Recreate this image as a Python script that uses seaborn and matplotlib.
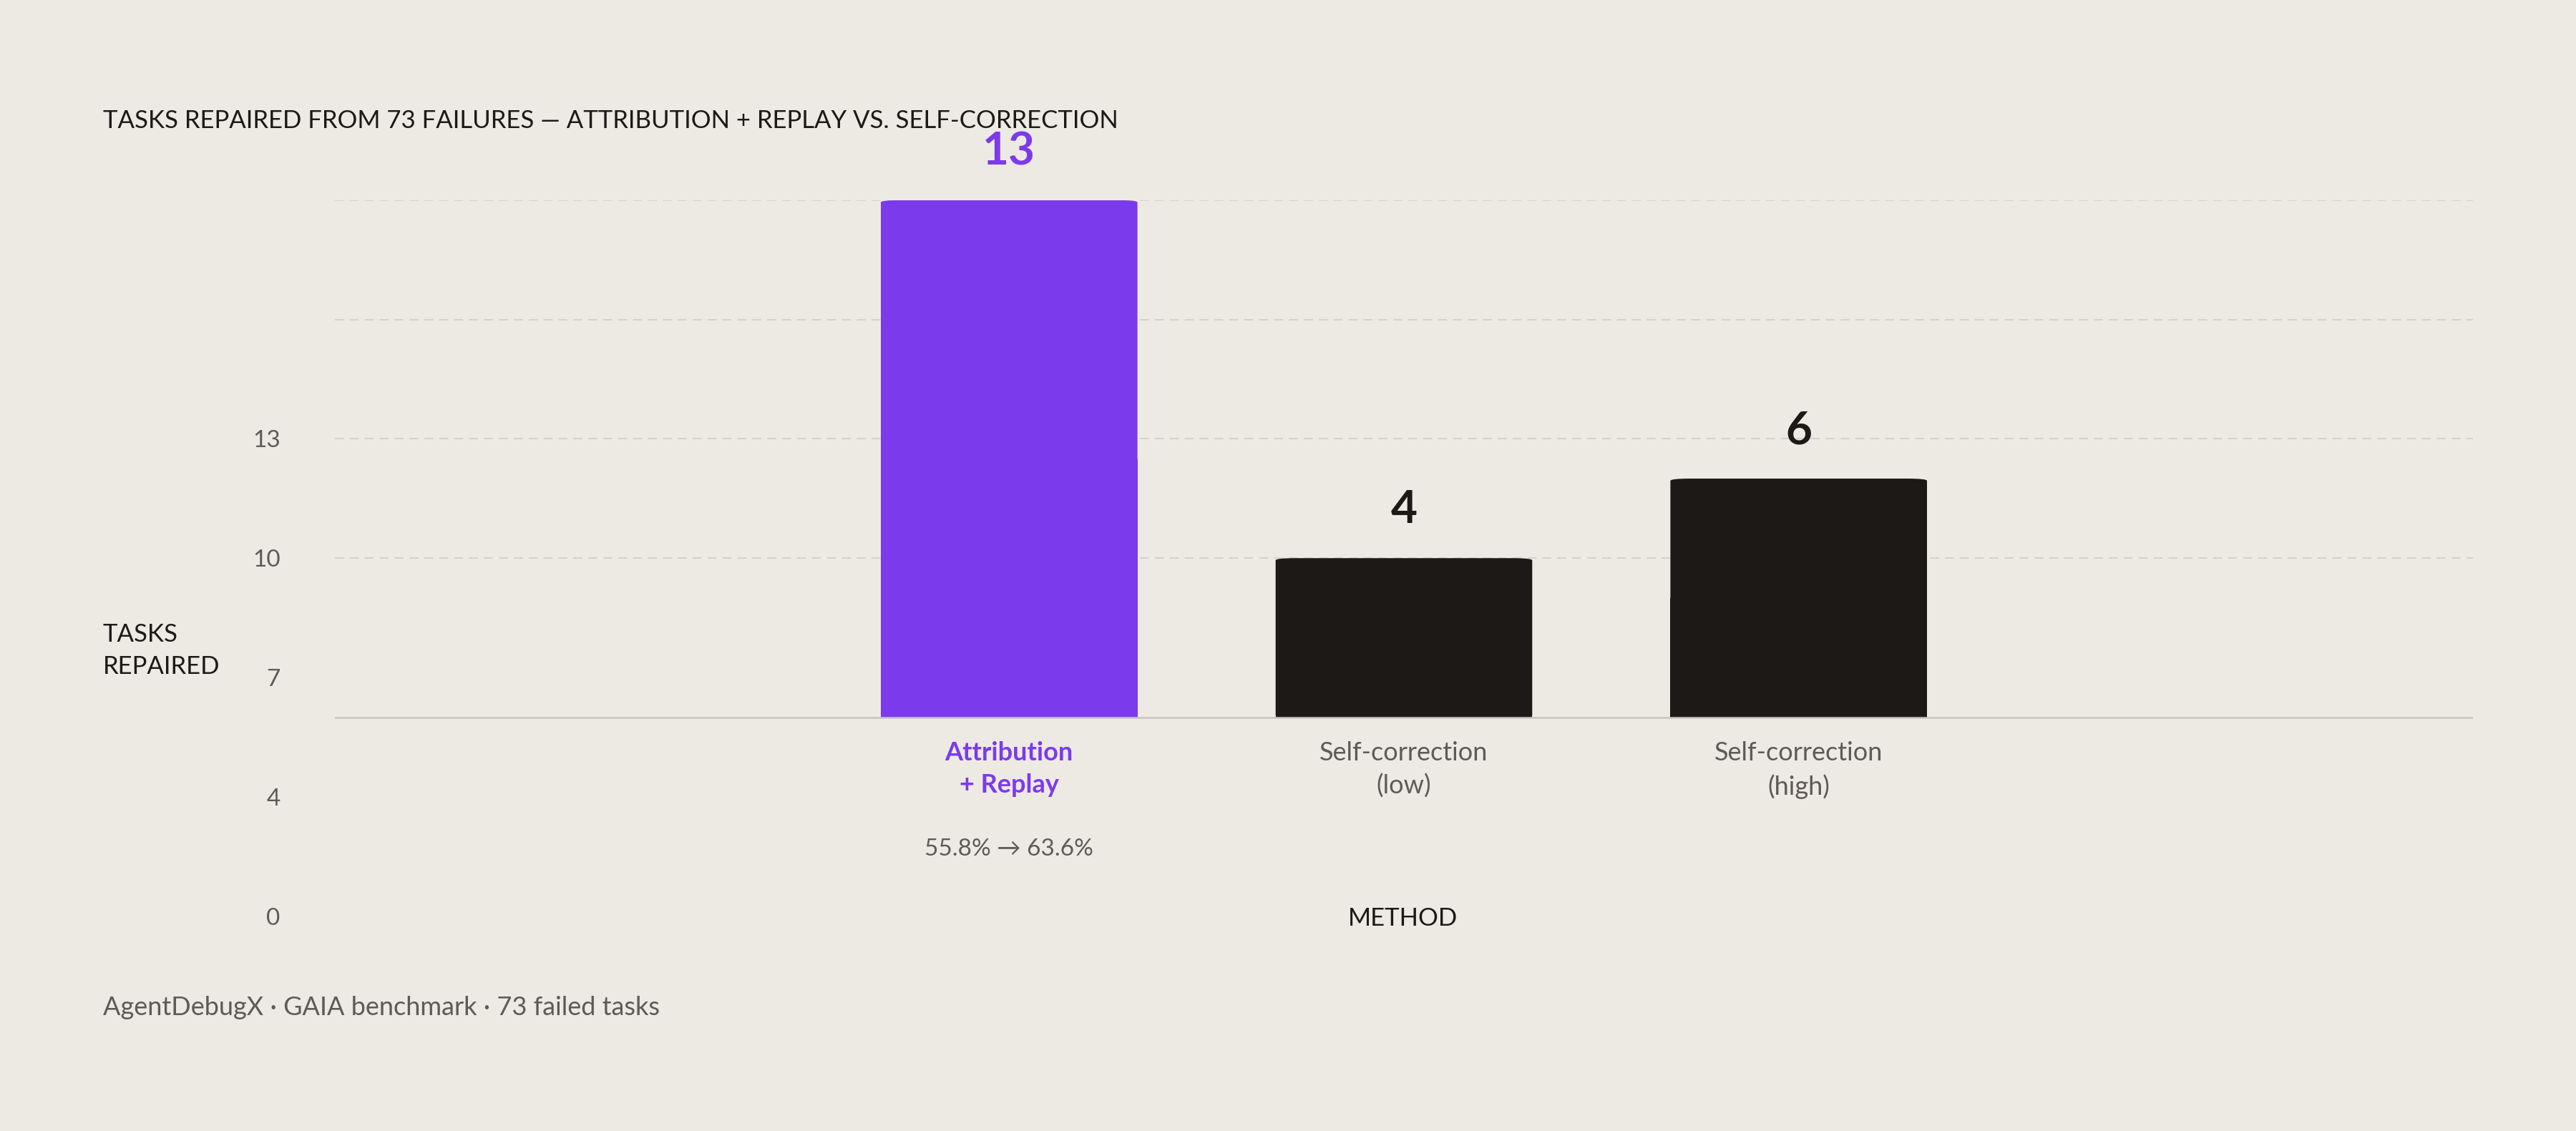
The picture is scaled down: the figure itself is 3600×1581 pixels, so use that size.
import matplotlib
matplotlib.use("Agg")
import matplotlib.pyplot as plt
import seaborn as sns
import pandas as pd
from matplotlib.patches import FancyBboxPatch, Rectangle

methods = ["Attribution\n+ Replay", "Self-correction\n(low)", "Self-correction\n(high)"]
repaired = [13, 4, 6]
bar_colors = ["#7C3AED", "#1C1917", "#1C1917"]
grid_values = [4, 7, 10, 13]
tick_positions = [7, 4, 1, -2, -5]
tick_labels = ["13", "10", "7", "4", "0"]

BG = "#EDEAE4"
GREY = "#5f5a55"
sns.set_theme(style="white")
plt.rcParams["font.family"] = ["Lato", "DejaVu Sans"]

fig = plt.figure(figsize=(36, 15.81), dpi=100, facecolor=BG)
ax = fig.add_axes([0.130, 0.190, 0.830, 0.633], facecolor=BG)
df = pd.DataFrame({"method": methods, "repaired": repaired})
sns.barplot(data=df, x="method", y="repaired", hue="method", palette=bar_colors,
            width=0.65, ax=ax, legend=False, saturation=1)

ax.set_xlim(-1.708, 3.708)
ax.set_ylim(-5, 13)
for g in grid_values:
    ax.axhline(g, color="#d6d2cb", lw=1.5, ls=(0, (6, 4)), zorder=0)
ax.axhline(0, color="#c9c5be", lw=1.8, zorder=3)

for p, c, v in zip(list(ax.patches), bar_colors, repaired):
    x, y, w, h = p.get_x(), p.get_y(), p.get_width(), p.get_height()
    p.remove()
    ax.add_patch(FancyBboxPatch((x, y), w, h, boxstyle="round,pad=0,rounding_size=0.05",
                                mutation_aspect=18 / 5.416 * 0.633 * 15.81 / (0.83 * 36) * 1.0,
                                fc=c, ec="none", zorder=2))
    ax.add_patch(Rectangle((x, y), w, h / 2, fc=c, ec="none", zorder=2))
    ax.text(x + w / 2, v + 0.7, str(v), ha="center", va="bottom", fontsize=46,
            fontweight="bold", color=c, clip_on=False)

ax.set_yticks(tick_positions)
ax.set_yticklabels(tick_labels, fontsize=24, color=GREY)
ax.tick_params(axis="y", length=0, pad=55)
ax.set_xticks([])
ax.set_xlabel("")
ax.set_ylabel("")
for s in ax.spines.values():
    s.set_visible(False)

for i, (m, c) in enumerate(zip(methods, bar_colors)):
    purple = i == 0
    ax.text(i, -0.6, m, ha="center", va="top", fontsize=26, linespacing=1.45,
            color=c if purple else GREY, fontweight="bold" if purple else "normal")
ax.text(0, -3.05, "55.8% → 63.6%", ha="center", va="top", fontsize=24, color=GREY)

fig.text(0.5445, 0.188, "METHOD", ha="center", va="center", fontsize=25, color="#1C1917")
fig.text(0.040, 0.425, "TASKS\nREPAIRED", ha="left", va="center", fontsize=25,
         color="#1C1917", linespacing=1.5)
fig.text(0.040, 0.893, "TASKS REPAIRED FROM 73 FAILURES — ATTRIBUTION + REPLAY VS. SELF-CORRECTION",
         ha="left", va="center", fontsize=25, color="#1C1917")
fig.text(0.040, 0.109, "AgentDebugX · GAIA benchmark · 73 failed tasks", ha="left",
         va="center", fontsize=26, color=GREY)

fig.savefig("out.png", dpi=100, facecolor=BG)
